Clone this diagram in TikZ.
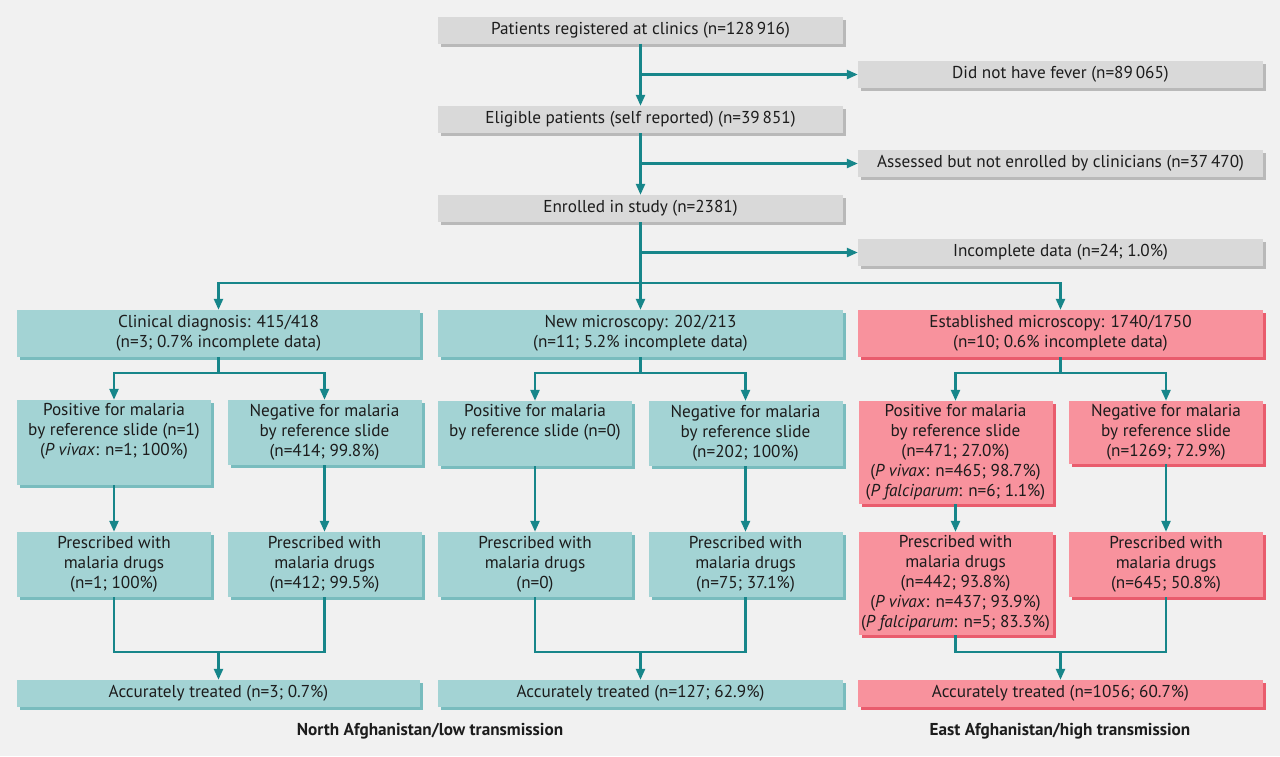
\documentclass[tikz,border=0pt]{standalone}
\usepackage{fontspec}
\setmainfont{PT Sans}
\usetikzlibrary{arrows.meta,shadows}
\definecolor{bgc}{HTML}{F1F1F1}
\definecolor{grayf}{HTML}{D9D9D9}
\definecolor{grays}{HTML}{B9B9B9}
\definecolor{tealf}{HTML}{A3D3D4}
\definecolor{teals}{HTML}{79BCBE}
\definecolor{pinkf}{HTML}{F8929D}
\definecolor{pinks}{HTML}{E95C6D}
\definecolor{linec}{HTML}{17868A}
\definecolor{txtc}{HTML}{1C1C1C}
\begin{document}
\begin{tikzpicture}[x=1pt,y=-1pt,
  every node/.style={font=\fontsize{17.2pt}{20pt}\selectfont, text=txtc},
  basebox/.style={rectangle, inner sep=0pt, align=center},
  graybox/.style={basebox, fill=grayf, minimum width=405pt, minimum height=27pt,
     general shadow={fill=grays, shadow xshift=3pt, shadow yshift=-3pt}},
  tealbox/.style={basebox, fill=tealf,
     general shadow={fill=teals, shadow xshift=3pt, shadow yshift=-3pt}},
  pinkbox/.style={basebox, fill=pinkf,
     general shadow={fill=pinks, shadow xshift=3pt, shadow yshift=-3pt}},
  wide/.style={minimum width=405pt},
  narrow/.style={minimum width=194pt},
  conn/.style={draw=linec, line width=2.4pt},
  arr/.style={conn, -{Triangle[length=11pt,width=9pt]}},
  lbl/.style={font=\fontsize{17.2pt}{20pt}\selectfont\bfseries}
]
\fill[bgc] (0,0) rectangle (1280,756);
\useasboundingbox (0,0) rectangle (1280,756);

% top flow
\node[graybox] (reg) at (640.5,30) {Patients registered at clinics (n=128\,916)};
\node[graybox] (elig) at (640.5,119.5) {Eligible patients (self reported) (n=39\,851)};
\node[graybox] (enr) at (640.5,208.5) {Enrolled in study (n=2381)};
\node[graybox] (fever) at (1060.5,74.5) {Did not have fever (n=89\,065)};
\node[graybox] (assess) at (1060.5,163.5) {Assessed but not enrolled by clinicians (n=37\,470)};
\node[graybox] (inc) at (1060.5,252.5) {Incomplete data (n=24; 1.0\%)};

% level 2
\node[tealbox, minimum width=403pt, minimum height=47pt] (clin) at (218.5,333.5)
  {Clinical diagnosis: 415/418\\(n=3; 0.7\% incomplete data)};
\node[tealbox, wide, minimum height=47pt] (new) at (640.5,333.5)
  {New microscopy: 202/213\\(n=11; 5.2\% incomplete data)};
\node[pinkbox, wide, minimum height=47pt] (est) at (1060.5,333.5)
  {Established microscopy: 1740/1750\\(n=10; 0.6\% incomplete data)};

% level 3
\node[tealbox, narrow, minimum height=85pt] (cpos) at (114,442.5)
  {Positive for malaria\\by reference slide (n=1)\\(\textit{P vivax}: n=1; 100\%)\\\strut};
\node[tealbox, narrow, minimum height=65pt] (cneg) at (324.5,432.5)
  {Negative for malaria\\by reference slide\\(n=414; 99.8\%)};
\node[tealbox, narrow, minimum height=65pt] (npos) at (535,433.5)
  {Positive for malaria\\by reference slide (n=0)\\\strut};
\node[tealbox, narrow, minimum height=65pt] (nneg) at (745.5,433.5)
  {Negative for malaria\\by reference slide\\(n=202; 100\%)};
\node[pinkbox, narrow, minimum height=103pt] (epos) at (955.5,452.5)
  {Positive for malaria\\by reference slide\\(n=471; 27.0\%)\\(\textit{P vivax}: n=465; 98.7\%)\\(\textit{P falciparum}: n=6; 1.1\%)};
\node[pinkbox, narrow, minimum height=63pt] (eneg) at (1166,432.5)
  {Negative for malaria\\by reference slide\\(n=1269; 72.9\%)};

% level 4
\node[tealbox, narrow, minimum height=65pt] (cpx) at (114,564.5)
  {Prescribed with\\malaria drugs\\(n=1; 100\%)};
\node[tealbox, narrow, minimum height=65pt] (cnx) at (324.5,564.5)
  {Prescribed with\\malaria drugs\\(n=412; 99.5\%)};
\node[tealbox, narrow, minimum height=65pt] (npx) at (535,564.5)
  {Prescribed with\\malaria drugs\\(n=0)};
\node[tealbox, narrow, minimum height=65pt] (nnx) at (745.5,564.5)
  {Prescribed with\\malaria drugs\\(n=75; 37.1\%)};
\node[pinkbox, narrow, minimum height=103pt] (epx) at (955.5,583.5)
  {Prescribed with\\malaria drugs\\(n=442; 93.8\%)\\(\textit{P vivax}: n=437; 93.9\%)\\(\textit{P falciparum}: n=5; 83.3\%)};
\node[pinkbox, narrow, minimum height=65pt] (enx) at (1166,564.5)
  {Prescribed with\\malaria drugs\\(n=645; 50.8\%)};

% level 5
\node[tealbox, minimum width=403pt, minimum height=27pt] (cacc) at (218.5,693.5)
  {Accurately treated (n=3; 0.7\%)};
\node[tealbox, wide, minimum height=27pt] (nacc) at (640.5,693.5)
  {Accurately treated (n=127; 62.9\%)};
\node[pinkbox, wide, minimum height=27pt] (eacc) at (1060.5,693.5)
  {Accurately treated (n=1056; 60.7\%)};

% region labels
\node[lbl] (north) at (430,731) {North Afghanistan/low transmission};
\node[lbl] (east) at (1060,731) {East Afghanistan/high transmission};

% connectors: top
\draw[arr] (reg.south) -- (elig.north);
\draw[arr] (reg.south |- fever.west) -- (fever.west);
\draw[arr] (elig.south) -- (enr.north);
\draw[arr] (elig.south |- assess.west) -- (assess.west);
\draw[arr] (enr.south) -- (new.north);
\draw[arr] (enr.south |- inc.west) -- (inc.west);
\coordinate (b1) at (640.5,283);
\draw[arr] (b1) -| (clin.north);
\draw[arr] (b1) -| (est.north);

% level 2 -> 3
\coordinate (cb) at (218.5,373);
\coordinate (nb) at (640.5,373);
\coordinate (eb) at (1060.5,373);
\draw[conn] (clin.south) -- (cb);
\draw[arr] (cb) -| (cpos.north);
\draw[arr] (cb) -| (cneg.north);
\draw[conn] (new.south) -- (nb);
\draw[arr] (nb) -| (npos.north);
\draw[arr] (nb) -| (nneg.north);
\draw[conn] (est.south) -- (eb);
\draw[arr] (eb) -| (epos.north);
\draw[arr] (eb) -| (eneg.north);

% level 3 -> 4
\draw[arr] (cpos.south) -- (cpx.north);
\draw[arr] (cneg.south) -- (cnx.north);
\draw[arr] (npos.south) -- (npx.north);
\draw[arr] (nneg.south) -- (nnx.north);
\draw[arr] (epos.south) -- (epx.north);
\draw[arr] (eneg.south) -- (enx.north);

% level 4 -> 5
\coordinate (cm) at (218.5,652);
\coordinate (nm) at (640.5,652);
\coordinate (em) at (1060.5,652);
\draw[conn] (cpx.south) |- (cm) -| (cnx.south);
\draw[arr] (cm) -- (cacc.north);
\draw[conn] (npx.south) |- (nm) -| (nnx.south);
\draw[arr] (nm) -- (nacc.north);
\draw[conn] (epx.south) |- (em) -| (enx.south);
\draw[arr] (em) -- (eacc.north);
\end{tikzpicture}
\end{document}
